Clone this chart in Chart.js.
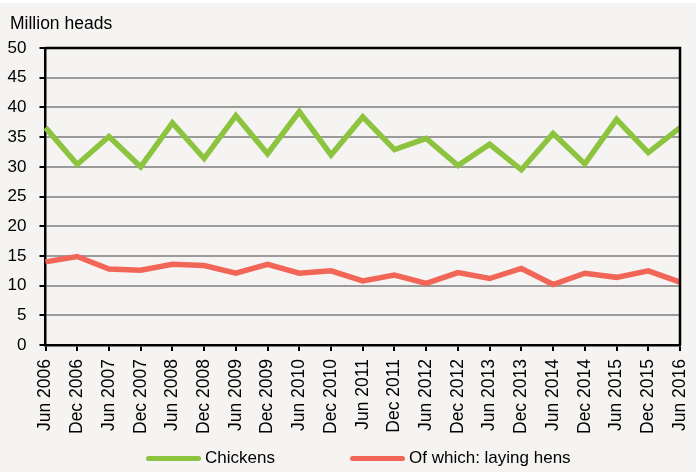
<!DOCTYPE html>
<html>
<head>
<meta charset="utf-8">
<script src="https://cdn.jsdelivr.net/npm/chart.js@4.4.1/dist/chart.umd.min.js"></script>
<style>
  html, body { margin: 0; padding: 0; background: #f5f4f2; }
  #wrap { position: relative; width: 696px; height: 472px; overflow: hidden; }
  #topband { position: absolute; left: 0; top: 0; width: 696px; height: 3px; background: #fff; }
  #chart { position: absolute; left: 0; top: 0; }
  #legend { position: absolute; left: 0; top: 446px; width: 696px; height: 24px;
            font: 17px "Liberation Sans", Arial, sans-serif; color: #000; }
  .item { position: absolute; top: 0; display: flex; align-items: center; height: 24px; }
  .swatch { width: 55px; height: 5px; border-radius: 3px; margin-right: 4px; }
</style>
</head>
<body>
<div id="wrap">
  <div id="topband"></div>
  <canvas id="chart" width="696" height="472"></canvas>
  <div id="legend"></div>
</div>
<script>
const labels = ['Jun 2006', 'Dec 2006', 'Jun 2007', 'Dec 2007', 'Jun 2008', 'Dec 2008', 'Jun 2009',
    'Dec 2009', 'Jun 2010', 'Dec 2010', 'Jun 2011', 'Dec 2011', 'Jun 2012', 'Dec 2012',
    'Jun 2013', 'Dec 2013', 'Jun 2014', 'Dec 2014', 'Jun 2015', 'Dec 2015', 'Jun 2016'];

const chickens = [36.6, 30.4, 35.1, 30.0, 37.4, 31.4, 38.6, 32.2, 39.3, 32.0, 38.4,
    32.9, 34.8, 30.2, 33.8, 29.5, 35.6, 30.5, 38.0, 32.4, 36.6];

const layingHens = [14.0, 14.9, 12.8, 12.6, 13.6, 13.4, 12.1, 13.6, 12.1, 12.5, 10.8,
    11.8, 10.4, 12.2, 11.2, 12.9, 10.2, 12.1, 11.4, 12.5, 10.6];

const yTicks = [0, 5, 10, 15, 20, 25, 30, 35, 40, 45, 50];

const green = '#8cc43f';
const red = '#f26658';
const font = '"Liberation Sans", Arial, sans-serif';

// top and right edges of the plot frame; nudge the unit title right
const frame = {
    id: 'frame',
    beforeDraw(chart) {
        if (chart.titleBlock) chart.titleBlock.left = 10;
    },
    afterDatasetsDraw(chart) {
        const { ctx, chartArea: a } = chart;
        ctx.save();
        ctx.strokeStyle = '#000';
        ctx.lineWidth = 2.5;
        ctx.beginPath();
        ctx.moveTo(a.left, a.top);
        ctx.lineTo(a.right, a.top);
        ctx.lineTo(a.right, a.bottom);
        ctx.stroke();
        ctx.restore();
    }
};

const chart = new Chart(document.getElementById('chart'), {
    type: 'line',
    data: {
        labels: labels,
        datasets: [
            {
                label: 'Chickens',
                data: chickens,
                borderColor: green,
                backgroundColor: green,
                borderWidth: 5.5,
                pointRadius: 0,
                tension: 0
            },
            {
                label: 'Of which: laying hens',
                data: layingHens,
                borderColor: red,
                backgroundColor: red,
                borderWidth: 5.5,
                pointRadius: 0,
                tension: 0
            }
        ]
    },
    options: {
        responsive: false,
        animation: false,
        layout: { padding: { left: 4, right: 16, top: 4, bottom: 30 } },
        plugins: {
            legend: { display: false },
            tooltip: { enabled: false },
            title: {
                display: true,
                text: 'Million heads',
                align: 'start',
                color: '#000',
                font: { family: font, size: 17.5, weight: 'normal' },
                padding: { top: 10, bottom: 13 }
            }
        },
        scales: {
            x: {
                offset: false,
                afterFit(axis) { axis.paddingLeft = 0; axis.paddingRight = 0; },
                grid: { display: true, drawOnChartArea: false, tickLength: 6, tickColor: '#000', lineWidth: 2 },
                border: { color: '#000', width: 2.5 },
                ticks: {
                    autoSkip: false,
                    maxRotation: 90,
                    minRotation: 90,
                    padding: 8,
                    color: '#000',
                    font: { family: font, size: 17.5 }
                }
            },
            y: {
                min: 0,
                max: 50,
                afterBuildTicks(axis) { axis.ticks = yTicks.map(v => ({ value: v })); },
                afterFit(axis) { axis.width = 41.5; },
                grid: {
                    color: ctx => (ctx.tick && (ctx.tick.value === 0 || ctx.tick.value === 50)) ? '#000' : '#9b9b9b',
                    lineWidth: 2,
                    tickLength: 6,
                    tickColor: '#000'
                },
                border: { color: '#000', width: 2.5 },
                ticks: {
                    padding: 13,
                    color: '#000',
                    font: { family: font, size: 17 }
                }
            }
        }
    },
    plugins: [frame]
});

// legend below the axis labels
const legendEl = document.getElementById('legend');
const legendLeft = [146, 350];
chart.data.datasets.forEach((ds, i) => {
    const item = document.createElement('div');
    item.className = 'item';
    item.style.left = legendLeft[i] + 'px';
    const sw = document.createElement('span');
    sw.className = 'swatch';
    sw.style.background = ds.borderColor;
    const tx = document.createElement('span');
    tx.textContent = ds.label;
    item.appendChild(sw);
    item.appendChild(tx);
    legendEl.appendChild(item);
});
</script>
</body>
</html>
